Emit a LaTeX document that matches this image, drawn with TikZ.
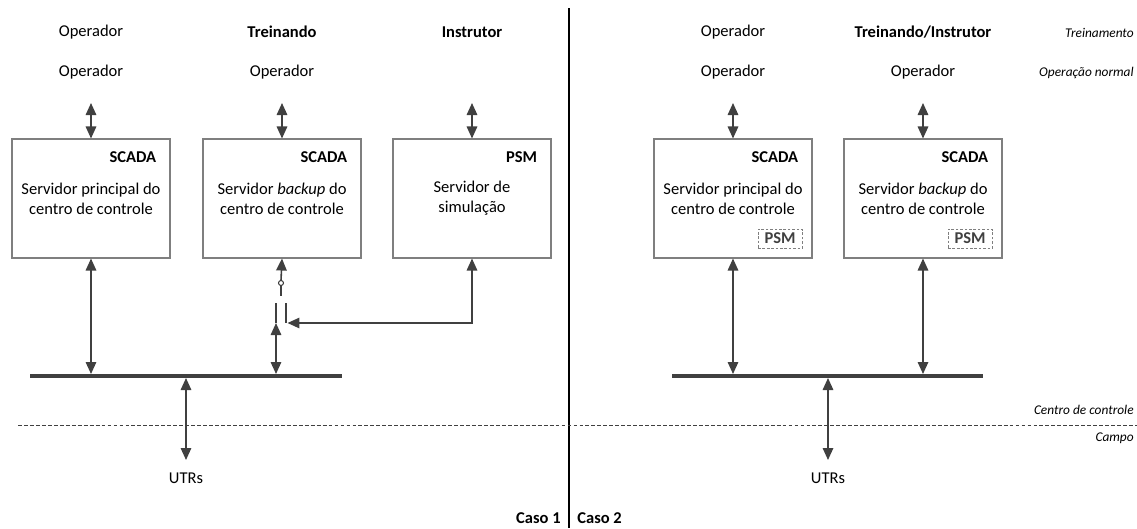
\documentclass[tikz,border=0pt]{standalone}
\usepackage{fontspec}
\setmainfont{Carlito}
\usetikzlibrary{arrows.meta,positioning}
\definecolor{linha}{HTML}{404040}
\definecolor{borda}{HTML}{7F7F7F}
\begin{document}
\begin{tikzpicture}[x=0.02cm,y=-0.02cm,
	lbl/.style={font=\fontsize{9.4}{11.4}\selectfont, inner sep=0pt},
	nota/.style={font=\fontsize{7.6}{9}\selectfont\itshape, anchor=east, inner sep=0pt},
	srv/.style={draw=borda, line width=0.6pt, minimum width=3.16cm, minimum height=2.38cm,
		align=center, font=\fontsize{9.4}{11.4}\selectfont, inner sep=0pt},
	tag/.style={font=\fontsize{9.4}{11.4}\selectfont\bfseries, anchor=east, inner sep=0pt},
	psm/.style={draw=borda, dashed, dash pattern=on 1.5pt off 1pt, line width=0.5pt, text=linha,
		font=\fontsize{9.4}{11.4}\selectfont\bfseries, minimum width=0.88cm, minimum height=0.38cm,
		inner sep=0pt, anchor=south east},
	seta/.style={draw=linha, line width=0.9pt,
		{Triangle[length=0.24cm,width=0.21cm]}-{Triangle[length=0.24cm,width=0.21cm]}},
	fio/.style={draw=linha, line width=0.9pt},
	bus/.style={draw=linha, line width=2.2pt},
	]
	\useasboundingbox (0,0) rectangle (1137,528);
	
	% Caso 1
	\node[lbl] (op1a) at (91,32) {Operador};
	\node[lbl] (op1b) at (91,72) {Operador};
	\node[lbl] (tr2) at (282,32) {\textbf{Treinando}};
	\node[lbl] (op2) at (282,72) {Operador};
	\node[lbl] (ins3) at (472,32) {\textbf{Instrutor}};
	
	\node[srv] (s1) at (91,198.5) {Servidor principal do\\centro de controle};
	\node[srv] (s2) at (282,198.5) {Servidor \textit{backup} do\\centro de controle};
	\node[srv] (s3) at (472,198.5) {Servidor de\\simulação};
	\node[tag] (t1) at ([xshift=-0.28cm,yshift=-0.38cm]s1.north east) {SCADA};
	\node[tag] (t2) at ([xshift=-0.28cm,yshift=-0.38cm]s2.north east) {SCADA};
	\node[tag] (t3) at ([xshift=-0.28cm,yshift=-0.38cm]s3.north east) {PSM};
	
	\coordinate (u1) at (91,103);
	\coordinate (u2) at (282,103);
	\coordinate (u3) at (472,103);
	\draw[seta] (u1) -- (s1.north);
	\draw[seta] (u2) -- (s2.north);
	\draw[seta] (u3) -- (s3.north);
	
	\coordinate (bl1) at (30,376);
	\coordinate (br1) at (342,376);
	\draw[bus] (bl1) -- (br1);
	\coordinate (b1) at (91,374);
	\draw[seta] (b1) -- (s1.south);
	
	% chave
	\coordinate (ch) at (281,283);
	\coordinate (chb) at (281,296);
	\coordinate (ka) at (276,303);
	\coordinate (kam) at (276,323);
	\coordinate (kab) at (276,374);
	\coordinate (kb) at (286,303);
	\coordinate (kbm) at (286,323);
	\draw[fio, -{Triangle[length=0.24cm,width=0.21cm]}] ([yshift=0.05cm]ch) -- (s2.south);
	\draw[fio] ([yshift=-0.05cm]ch) -- (chb);
	\draw[draw=linha, line width=0.6pt, fill=white] (ch) circle[radius=0.05cm];
	\draw[seta] (kab) -- (kam);
	\draw[fio] (kam) -- (ka);
	\draw[fio] (kb) -- (kbm);
	\draw[seta] (s3.south) |- ([xshift=0.03cm]kbm);
	
	\coordinate (c1) at (186,378);
	\coordinate (d1) at (186,460);
	\draw[seta] (c1) -- (d1);
	\node[lbl] (utr1) at (186,478) {UTRs};
	
	% Caso 2
	\node[lbl] (op4a) at (733,32) {Operador};
	\node[lbl] (op4b) at (733,72) {Operador};
	\node[lbl] (ti5) at (923,32) {\textbf{Treinando/Instrutor}};
	\node[lbl] (op5) at (923,72) {Operador};
	
	\node[srv] (s4) at (733,198.5) {Servidor principal do\\centro de controle};
	\node[srv] (s5) at (923,198.5) {Servidor \textit{backup} do\\centro de controle};
	\node[tag] (t4) at ([xshift=-0.28cm,yshift=-0.38cm]s4.north east) {SCADA};
	\node[tag] (t5) at ([xshift=-0.28cm,yshift=-0.38cm]s5.north east) {SCADA};
	\node[psm] (p4) at ([xshift=-0.2cm,yshift=0.2cm]s4.south east) {PSM};
	\node[psm] (p5) at ([xshift=-0.2cm,yshift=0.2cm]s5.south east) {PSM};
	
	\coordinate (u4) at (733,103);
	\coordinate (u5) at (923,103);
	\draw[seta] (u4) -- (s4.north);
	\draw[seta] (u5) -- (s5.north);
	
	\coordinate (bl2) at (672,376);
	\coordinate (br2) at (983,376);
	\draw[bus] (bl2) -- (br2);
	\coordinate (b4) at (733,374);
	\coordinate (b5) at (923,374);
	\draw[seta] (b4) -- (s4.south);
	\draw[seta] (b5) -- (s5.south);
	
	\coordinate (c2) at (828,378);
	\coordinate (d2) at (828,460);
	\draw[seta] (c2) -- (d2);
	\node[lbl] (utr2) at (828,478) {UTRs};
	
	% divisoes
	\coordinate (dt) at (569,8);
	\coordinate (db) at (569,528);
	\draw[line width=1.7pt] (dt) -- (db);
	\node[lbl, anchor=east] (caso1) at (561,518) {\textbf{Caso 1}};
	\node[lbl, anchor=west] (caso2) at (577,518) {\textbf{Caso 2}};
	
	\coordinate (tl) at (18,425);
	\coordinate (tr) at (1137,425);
	\draw[linha, line width=0.5pt, dash pattern=on 2.2pt off 1.2pt] (tl) -- (tr);
	
	\node[nota] (n1) at (1134,33) {Treinamento};
	\node[nota] (n2) at (1134,73) {Operação normal};
	\node[nota] (n3) at (1134,410) {Centro de controle};
	\node[nota] (n4) at (1134,438) {Campo};
\end{tikzpicture}
\end{document}
